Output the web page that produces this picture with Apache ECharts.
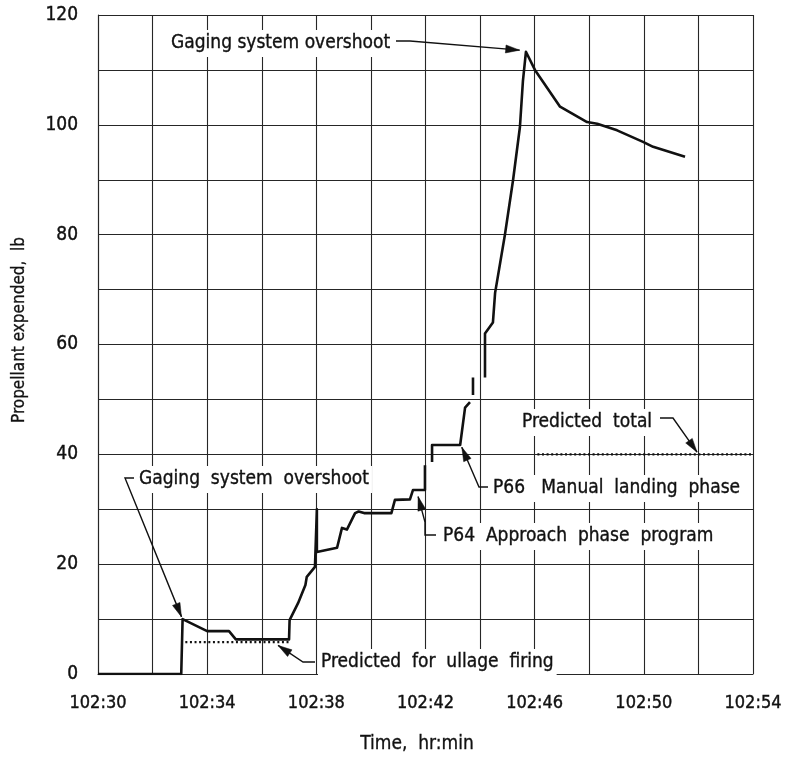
<!DOCTYPE html>
<html>
<head>
<meta charset="utf-8">
<script src="https://cdn.jsdelivr.net/npm/echarts@6/dist/echarts.min.js"></script>
<style>
  html, body { margin: 0; padding: 0; background: #fff; }
  #chart { width: 785px; height: 758px; }
</style>
</head>
<body>
<div id="chart"></div>
<script>
// Minutes after 102:30 and propellant expended (lb); null marks a gap in the trace
const timeMin = [
  0, 3.05, 3.1, 4.0, 4.8, 5.05, 7.0, 7.02, 7.33, 7.6, 7.65, 7.95, 8.02, 8.02,
  8.76, 8.94, 9.12, 9.42, 9.55, 9.75, 10.75, 10.88, 11.43, 11.54, 11.98, 11.98,
  null, 12.24, 12.24, 13.27, 13.45, 13.63, null, 13.74, 13.74, null,
  14.18, 14.18, 14.47, 14.55, 14.91, 15.21, 15.46, 15.57, 15.68,
  16.01, 16.93, 17.92, 18.29, 19.02, 19.97, 20.34, 21.51
];
const propellantLb = [
  0, 0, 10, 7.8, 7.8, 6.3, 6.3, 9.8, 12.9, 16.2, 17.7, 19.5, 30, 22.2,
  23, 26.6, 26.3, 29.3, 29.6, 29.3, 29.3, 31.7, 31.8, 33.5, 33.5, 38,
  null, 38.6, 41.7, 41.7, 48.5, 49.5, null, 50.8, 54, null,
  54, 62, 64, 69.4, 80, 90, 99.6, 108, 113.3,
  110, 103.3, 100.5, 100.2, 99, 96.9, 96, 94.2
];
// Predicted values
const ullageTime = [3.2, 7.0];
const ullageLb = [5.8, 5.8];
const totalTime = [16.1, 24];
const totalLb = [40, 40];

// Axis labels
const xTickLabels = ['102:30', '102:34', '102:38', '102:42', '102:46', '102:50', '102:54'];
const yTickLabels = [0, 20, 40, 60, 80, 100, 120];

const FONT_FAMILY = '"DejaVu Sans Condensed", "Liberation Sans Narrow", sans-serif';
const INK = '#111';

const pairs = (xs, ys) => xs.map((t, i) => (t == null || ys[i] == null) ? ['-', '-'] : [t, ys[i]]);

const chart = echarts.init(document.getElementById('chart'), null, { renderer: 'canvas' });

const gridLine = { show: true, lineStyle: { color: '#262626', width: 1.1 } };

chart.setOption({
  backgroundColor: '#fff',
  animation: false,
  grid: { left: 98, right: 32, top: 15, bottom: 84, containLabel: false },
  xAxis: {
    type: 'value', min: 0, max: 24, interval: 2,
    axisLine: { show: true, lineStyle: { color: '#262626', width: 1.1 } },
    axisTick: { show: false },
    splitLine: gridLine,
    axisLabel: {
      margin: 20, color: INK, fontSize: 18, fontFamily: FONT_FAMILY,
      textBorderColor: INK, textBorderWidth: 0.4,
      showMaxLabel: true, showMinLabel: true,
      formatter: v => (v % 4 === 0 ? xTickLabels[v / 4] : '')
    }
  },
  yAxis: {
    type: 'value', min: 0, max: 120, interval: 10,
    axisLine: { show: true, lineStyle: { color: '#262626', width: 1.1 } },
    axisTick: { show: false },
    splitLine: gridLine,
    axisLabel: {
      margin: 20, color: INK, fontSize: 19, fontFamily: FONT_FAMILY,
      textBorderColor: INK, textBorderWidth: 0.4,
      formatter: v => (yTickLabels.includes(v) ? String(v) : '')
    }
  },
  series: [
    {
      name: 'Propellant expended', type: 'line', data: pairs(timeMin, propellantLb),
      showSymbol: false, connectNulls: false, z: 5,
      lineStyle: { color: INK, width: 2.6, join: 'round' }
    },
    {
      name: 'Predicted for ullage firing', type: 'line', data: pairs(ullageTime, ullageLb),
      showSymbol: false, z: 4,
      lineStyle: { color: INK, width: 2.4, type: [2, 2.6] }
    },
    {
      name: 'Predicted total', type: 'line', data: pairs(totalTime, totalLb),
      showSymbol: false, z: 4,
      lineStyle: { color: INK, width: 2.4, type: [2, 2.6] }
    }
  ]
});

// Callouts: label, label position, leader path (px) and the data point the arrow points to
const callouts = [
  { text: 'Gaging system overshoot', x: 168, y: 42, lead: [[396, 41], [410, 41]], tip: [15.45, 113.6] },
  { text: 'Gaging  system  overshoot', x: 136, y: 478, lead: [[134, 478], [125, 478]], tip: [3.06, 10.4] },
  { text: 'Predicted  for  ullage  firing', x: 318, y: 661, lead: [[315, 662], [303, 662]], tip: [6.6, 5.2] },
  { text: 'Predicted  total', x: 519, y: 421, lead: [[660, 418], [673, 418]], tip: [21.95, 40.4] },
  { text: 'P66   Manual  landing  phase', x: 490, y: 487, lead: [[488, 487], [479, 487]], tip: [13.33, 41.3] },
  { text: 'P64  Approach  phase  program', x: 440, y: 535, lead: [[436, 535], [425, 535], [425, 522]], tip: [11.73, 32.3] }
];

function arrowHead(tip, from, len, half) {
  const dx = tip[0] - from[0], dy = tip[1] - from[1];
  const d = Math.hypot(dx, dy) || 1;
  const ux = dx / d, uy = dy / d;
  const bx = tip[0] - ux * len, by = tip[1] - uy * len;
  return [tip, [bx - uy * half, by + ux * half], [bx + uy * half, by - ux * half]];
}

const graphics = [];
callouts.forEach(c => {
  const tipPx = chart.convertToPixel({ gridIndex: 0 }, c.tip);
  const last = c.lead[c.lead.length - 1];
  graphics.push({
    type: 'text', left: c.x, top: c.y - 12, z: 10,
    style: {
      text: c.text, fill: INK, font: '19px ' + FONT_FAMILY,
      stroke: INK, lineWidth: 0.35,
      backgroundColor: '#fff', padding: [4, 3]
    }
  });
  graphics.push({
    type: 'polyline', z: 11,
    shape: { points: c.lead.concat([tipPx]) },
    style: { stroke: INK, lineWidth: 1.4, fill: null }
  });
  graphics.push({
    type: 'polygon', z: 11,
    shape: { points: arrowHead(tipPx, last, 14, 4) },
    style: { fill: INK, stroke: INK, lineWidth: 0.5 }
  });
});

// Axis titles
graphics.push({
  type: 'text', x: 20, y: 330, rotation: Math.PI / 2, z: 10,
  style: {
    text: 'Propellant expended,  lb', fill: INK, font: '17px ' + FONT_FAMILY,
    stroke: INK, lineWidth: 0.3,
    align: 'center', verticalAlign: 'middle'
  }
});
graphics.push({
  type: 'text', x: 417, y: 744, z: 10,
  style: {
    text: 'Time,  hr:min', fill: INK, font: '19px ' + FONT_FAMILY,
    stroke: INK, lineWidth: 0.3,
    align: 'center', verticalAlign: 'middle'
  }
});

chart.setOption({ graphic: graphics });
</script>
</body>
</html>
